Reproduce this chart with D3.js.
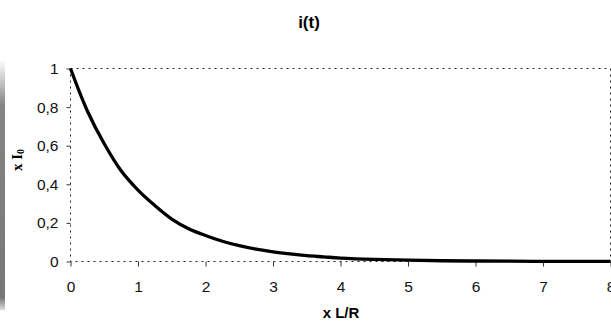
<!DOCTYPE html>
<html lang="en">
<head>
<meta charset="utf-8">
<script src="https://cdn.jsdelivr.net/npm/d3@7"></script>
<style>
  body { margin: 0; background: #fff; }
  text { font-family: "Liberation Sans", Arial, sans-serif; }
</style>
</head>
<body>
<svg id="mysvg" width="611" height="323"></svg>
<script>
// values (t in units of L/R, i in units of I0)
var tValues = [0, 0.25, 0.5, 0.75, 1, 1.25, 1.5, 1.75, 2, 2.25, 2.5, 2.75, 3, 3.25, 3.5, 3.75, 4, 4.5, 5, 5.5, 6, 6.5, 7, 7.5, 8]
var iValues = [1, 0.78, 0.61, 0.47, 0.37, 0.29, 0.22, 0.17, 0.135, 0.105, 0.082, 0.064, 0.05, 0.039, 0.03, 0.024, 0.018, 0.011, 0.007, 0.004, 0.0025, 0.0015, 0.001, 0.0006, 0.0003]
var xTicks = [0, 1, 2, 3, 4, 5, 6, 7, 8]
var yTicks = [0, 0.2, 0.4, 0.6, 0.8, 1]

var svg = d3.select("#mysvg")

var plotL = 70.5, plotR = 610.5, plotT = 68.5, plotB = 261.5

var x = d3.scaleLinear().domain([0, 8]).range([plotL, plotR])
var y = d3.scaleLinear().domain([0, 1]).range([plotB, plotT])

// grey strip on the left edge
var grad = svg.append("defs").append("linearGradient")
    .attr("id", "strip").attr("x1", 0).attr("x2", 0).attr("y1", 0).attr("y2", 1)
grad.append("stop").attr("offset", "0%").attr("stop-color", "#fff")
grad.append("stop").attr("offset", "18%").attr("stop-color", "#858585")
grad.append("stop").attr("offset", "95%").attr("stop-color", "#777")
grad.append("stop").attr("offset", "100%").attr("stop-color", "#ddd")
svg.append("rect")
    .attr("x", 0).attr("y", 60).attr("width", 5).attr("height", 250)
    .style("fill", "url(#strip)")

// dotted plot border
svg.append("rect")
    .attr("x", plotL).attr("y", plotT)
    .attr("width", plotR - plotL).attr("height", plotB - plotT)
    .style("fill", "none")
    .style("stroke", "#222")
    .style("stroke-width", 1)
    .style("stroke-dasharray", "2,4")

// axes
var xAxis = d3.axisBottom(x).tickValues(xTicks).tickSize(5).tickSizeOuter(0)
    .tickFormat(function(d) { return d })
var gx = svg.append("g").attr("transform", "translate(0," + plotB + ")").call(xAxis)
gx.select(".domain").remove()
gx.selectAll("line").attr("stroke", "#333")
gx.selectAll("text").attr("font-size", 15.5).attr("fill", "#111").attr("y", 30).attr("dy", null)
    .style("font-family", "Liberation Sans, Arial, sans-serif")

var yAxis = d3.axisLeft(y).tickValues(yTicks).tickSize(4).tickSizeOuter(0)
    .tickFormat(function(d) { return String(d).replace(".", ",") })
var gy = svg.append("g").attr("transform", "translate(" + plotL + ",0)").call(yAxis)
gy.select(".domain").remove()
gy.selectAll("line").attr("stroke", "#333")
gy.selectAll("text").attr("font-size", 15.5).attr("fill", "#111").attr("x", -12)
    .style("font-family", "Liberation Sans, Arial, sans-serif")

// curve
var data = tValues.map(function(t, k) { return { t: t, v: iValues[k] } })
var lineFunction = d3.line()
    .x(function(d) { return x(d.t) })
    .y(function(d) { return y(d.v) })
    .curve(d3.curveCatmullRom)

svg.append("path")
    .attr("d", lineFunction(data))
    .style("fill", "none")
    .style("stroke", "#000")
    .style("stroke-width", 3.3)

// title and axis labels
svg.append("text")
    .attr("x", 309).attr("y", 28)
    .attr("text-anchor", "middle")
    .attr("font-size", 17).attr("font-weight", "bold")
    .text("i(t)")

svg.append("text")
    .attr("x", 341).attr("y", 318)
    .attr("text-anchor", "middle")
    .attr("font-size", 15).attr("font-weight", "bold")
    .text("x L/R")

var ylab = svg.append("text")
    .attr("transform", "translate(22,160) rotate(-90)")
    .attr("text-anchor", "middle")
    .attr("font-size", 15).attr("font-weight", "bold")
    .style("font-family", "Liberation Serif, Times New Roman, serif")
ylab.append("tspan").text("x I")
ylab.append("tspan").attr("font-size", 10).attr("dy", 2).text("0")
</script>
</body>
</html>
